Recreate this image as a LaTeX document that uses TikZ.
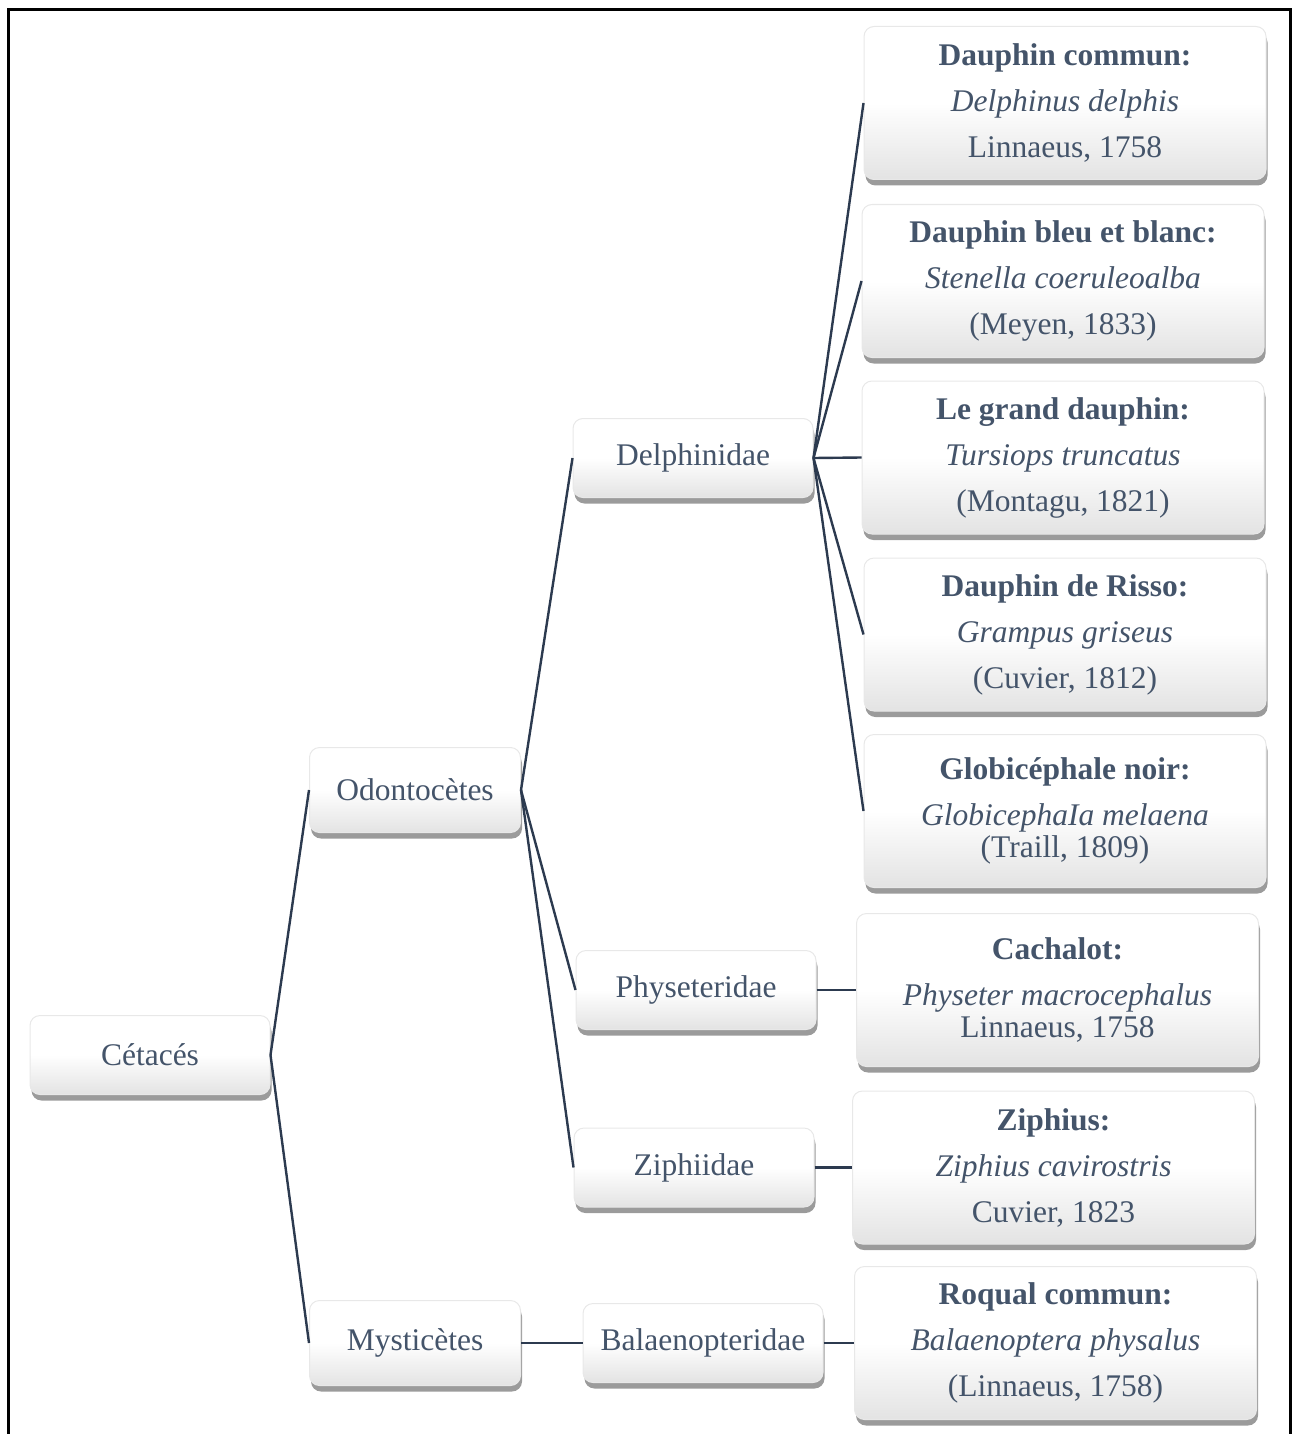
\documentclass[tikz,border=0pt]{standalone}
\usepackage{fontspec}
\setmainfont{Liberation Serif}
\usepackage{xcolor}
\usetikzlibrary{shadows}
\definecolor{texte}{HTML}{44546A}
\definecolor{trait}{HTML}{2C3A4F}

\begin{document}
\begin{tikzpicture}[x=1pt,y=1pt,
  boite/.style={rectangle, rounded corners=10pt, inner sep=0pt, text=texte,
    draw=black!9, line width=1pt,
    top color=white, bottom color=black!11, middle color=white,
    drop shadow={shadow xshift=1.5pt, shadow yshift=-6pt, fill=black!65, opacity=0.6},
    font=\fontsize{31.5}{46}\selectfont, align=center},
  taxon/.style={boite, minimum width=240pt, minimum height=79pt},
  ordre/.style={boite, minimum width=211pt, minimum height=85pt},
  espece/.style={boite, minimum width=402pt, minimum height=153pt},
  lien/.style={draw=trait, line width=2.4pt}]
\useasboundingbox (0,0) rectangle (1295,-1434);
\draw [black, line width=3pt] (8,-10) rectangle (1290,-1460);
\node [taxon] (cetaces) at (150,-1055) {Cétacés};
\node [ordre] (odonto) at (415,-790) {Odontocètes};
\node [ordre] (mystic) at (415,-1343) {Mysticètes};
\node [taxon] (delphin) at (693,-458) {Delphinidae};
\node [taxon] (physet) at (696,-990) {Physeteridae};
\node [taxon] (ziphi) at (694,-1167.5) {Ziphiidae};
\node [taxon] (balaen) at (703,-1343) {Balaenopteridae};
\node [espece] (commun) at (1065,-103) {\textbf{Dauphin commun:}\\\textit{Delphinus delphis}\\Linnaeus, 1758};
\node [espece] (bleublanc) at (1063,-281) {\textbf{Dauphin bleu et blanc:}\\\textit{Stenella coeruleoalba}\\(Meyen, 1833)};
\node [espece] (grand) at (1063,-457.5) {\textbf{Le grand dauphin:}\\\textit{Tursiops truncatus}\\(Montagu, 1821)};
\node [espece] (risso) at (1065,-634.5) {\textbf{Dauphin de Risso:}\\\textit{Grampus griseus}\\(Cuvier, 1812)};
\node [espece] (globi) at (1065,-811) {\textbf{Globicéphale noir:}\\\textit{GlobicephaIa melaena}\\[-14pt](Traill, 1809)};
\node [espece] (cachalot) at (1057.5,-990) {\textbf{Cachalot:}\\\textit{Physeter macrocephalus}\\[-14pt]Linnaeus, 1758};
\node [espece] (ziphius) at (1053.5,-1167.5) {\textbf{Ziphius:}\\\textit{Ziphius cavirostris}\\Cuvier, 1823};
\node [espece] (roqual) at (1055.5,-1343) {\textbf{Roqual commun:}\\\textit{Balaenoptera physalus}\\(Linnaeus, 1758)};
\draw [lien] (cetaces.east) -- (odonto.west);
\draw [lien] (cetaces.east) -- (mystic.west);
\draw [lien] (odonto.east) -- (delphin.west);
\draw [lien] (odonto.east) -- (physet.west);
\draw [lien] (odonto.east) -- (ziphi.west);
\draw [lien] (mystic.east) -- (balaen.west);
\draw [lien] (delphin.east) -- (commun.west);
\draw [lien] (delphin.east) -- (bleublanc.west);
\draw [lien] (delphin.east) -- (grand.west);
\draw [lien] (delphin.east) -- (risso.west);
\draw [lien] (delphin.east) -- (globi.west);
\draw [lien] (physet.east) -- (cachalot.west);
\draw [lien] (ziphi.east) -- (ziphius.west);
\draw [lien] (balaen.east) -- (roqual.west);
\end{tikzpicture}
\end{document}
